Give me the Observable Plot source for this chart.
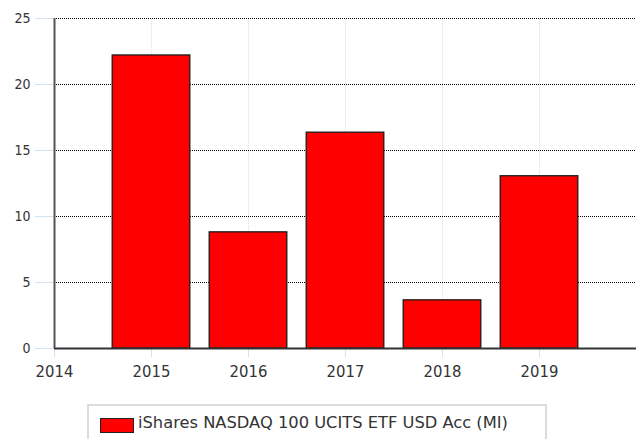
<!DOCTYPE html>
<html>
<head>
<meta charset="utf-8">
<script src="https://cdn.jsdelivr.net/npm/d3@7"></script>
<script src="https://cdn.jsdelivr.net/npm/@observablehq/plot@0.6"></script>
<style>
  html, body { margin: 0; padding: 0; background: #fff; }
  #wrap { position: relative; width: 637px; height: 439px; overflow: hidden; font-family: "DejaVu Sans Condensed", "DejaVu Sans", sans-serif; }
  #legend { position: absolute; left: 87px; top: 404px; width: 460px; height: 50px; border: 2px solid #dcdcdc; box-sizing: border-box; }
  #legend .sw { position: absolute; left: 11px; top: 12px; width: 34px; height: 15px; background: #ff0000; border: 1px solid #222; box-sizing: border-box; }
  #legend .lt { position: absolute; left: 49px; top: 7px; font-family: "DejaVu Sans", sans-serif; font-size: 16.3px; color: #333; white-space: nowrap; }
</style>
</head>
<body>
<div id="wrap">
  <div id="chart"></div>
  <div id="legend"><div class="sw"></div><div class="lt"></div></div>
</div>
<script>
const seriesName = "iShares NASDAQ 100 UCITS ETF USD Acc (MI)";
const years = [2015, 2016, 2017, 2018, 2019];
const values = [22.2, 8.8, 16.35, 3.65, 13.05];
const xTicks = [2014, 2015, 2016, 2017, 2018, 2019];
const yTicks = [0, 5, 10, 15, 20, 25];
const yGrid = [5, 10, 15, 20, 25];

const data = years.map((y, i) => ({year: y, value: values[i]}));

document.querySelector("#legend .lt").textContent = seriesName;

const chart = Plot.plot({
  width: 637,
  height: 390,
  marginTop: 18,
  marginBottom: 42,
  marginLeft: 54,
  marginRight: 1,
  style: {fontFamily: "'DejaVu Sans Condensed', 'DejaVu Sans', sans-serif", background: "#fff"},
  x: {domain: [2014, 2020]},
  y: {domain: [0, 25]},
  marks: [
    Plot.ruleX(years, {x: d => d, y1: 0, y2: 25, stroke: "#cddff4", strokeDasharray: "1,1"}),
    Plot.ruleY(yGrid, {y: d => d, stroke: "#000", strokeDasharray: "1,1", strokeWidth: 1}),
    Plot.rectY(data, {x1: d => d.year - 0.4, x2: d => d.year + 0.4, y1: 0, y2: "value", fill: "#ff0000", stroke: "#1a1a1a", strokeWidth: 1.3}),
    Plot.axisY({ticks: yTicks, tickSize: 19, tickPadding: 5, stroke: "#d3e3f6", fill: "#333", fontSize: 14, label: null}),
    Plot.axisX({ticks: xTicks, tickFormat: "d", tickSize: 9, tickPadding: 8, stroke: "#d3e3f6", fill: "#333", fontSize: 16.5, label: null}),
    Plot.ruleX([2014], {y1: 0, y2: 25, stroke: "#555", strokeWidth: 2}),
    Plot.ruleY([0], {stroke: "#333", strokeWidth: 2})
  ]
});
document.getElementById("chart").appendChild(chart);
</script>
</body>
</html>
